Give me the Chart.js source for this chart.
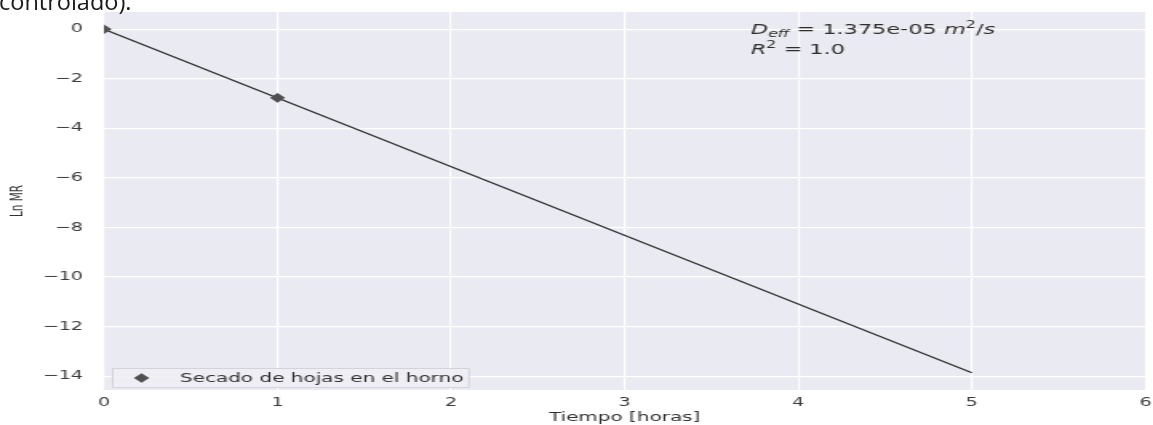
<!DOCTYPE html>
<html>
<head>
<meta charset="utf-8">
<script src="https://cdn.jsdelivr.net/npm/chart.js@4/dist/chart.umd.min.js"></script>
<style>
  html, body { margin: 0; padding: 0; background: #ffffff; overflow: hidden; }
  #wrap { position: relative; width: 1153px; height: 425px; overflow: hidden; }
  /* the figure is drawn at a narrower width and widened to fill the page */
  #lienzo { position: absolute; left: 0; top: 0; width: 721px; height: 425px;
            transform: scaleX(1.5992); transform-origin: 0 0; }
  #caption {
    position: absolute; left: -1px; top: -10px;
    font-family: "Open Sans", "Noto Sans", sans-serif; font-size: 23.5px;
    line-height: 23.5px; color: #1a1a1a; white-space: nowrap;
  }
</style>
</head>
<body>
<div id="wrap">
  <div id="lienzo"><canvas id="c" width="721" height="425"></canvas></div>
  <div id="caption">controlado).</div>
</div>
<script>
// Measured drying points: time (hours) and ln(MR)
const tiempoHoras = [0, 1];
const lnMR = [0, -2.77];

// Fitted straight line ln(MR) = -k t
const ajusteTiempo = [0, 5];
const ajusteLnMR = [0, -13.86];

// Axis limits and ticks
const xLimites = [0, 6];
const yLimites = [-14.556, 0.693];
const xTicks = [0, 1, 2, 3, 4, 5, 6];
const yTicks = [0, -2, -4, -6, -8, -10, -12, -14];

const serieEtiqueta = 'Secado de hojas en el horno';
const dEffTexto = '1.375e-05';
const r2Texto = '1.0';

const FONDO = '#EAEAF2';
const TEXTO = '#3a3a3a';
const MARCADOR = '#505050';

const menos = v => String(v).replace('-', '\u2212');

// plot face colour
const fondoPlugin = {
  id: 'fondo',
  beforeDraw(chart) {
    const { ctx, chartArea: a } = chart;
    ctx.save();
    ctx.fillStyle = FONDO;
    ctx.fillRect(a.left, a.top, a.right - a.left, a.bottom - a.top);
    ctx.restore();
  }
};

// draws a sequence of text runs with italic / sub / superscript pieces
function escribir(ctx, piezas, x, y) {
  for (const p of piezas) {
    ctx.font = (p.it ? 'italic ' : '') + p.size + 'px "DejaVu Sans"';
    ctx.fillText(p.t, x, y + (p.dy || 0));
    x += ctx.measureText(p.t).width;
  }
}

// D_eff and R² annotation in the upper right of the axes
const anotacionPlugin = {
  id: 'anotacion',
  afterDatasetsDraw(chart) {
    const { ctx, chartArea: a } = chart;
    const x = a.left + 0.621 * (a.right - a.left);
    ctx.save();
    ctx.fillStyle = '#2e2e2e';
    ctx.textBaseline = 'alphabetic';
    ctx.textAlign = 'left';
    escribir(ctx, [
      { t: 'D', it: true, size: 14 },
      { t: 'eff', it: true, size: 10, dy: 3 },
      { t: ' = ' + dEffTexto + ' ', size: 14 },
      { t: 'm', it: true, size: 14 },
      { t: '2', size: 10, dy: -6 },
      { t: '/', size: 14 },
      { t: 's', it: true, size: 14 }
    ], x, a.top + 22);
    escribir(ctx, [
      { t: 'R', it: true, size: 14 },
      { t: '2', size: 10, dy: -6 },
      { t: ' = ' + r2Texto, size: 14 }
    ], x, a.top + 42);
    ctx.restore();
  }
};

// framed legend in the lower left corner of the axes
const leyendaPlugin = {
  id: 'leyenda',
  afterDraw(chart) {
    const { ctx, chartArea: a } = chart;
    const ds = chart.data.datasets[0];
    ctx.save();
    ctx.font = '12.5px "DejaVu Sans"';
    const ancho = ctx.measureText(ds.label).width;
    const x0 = a.left + 5, y0 = a.bottom - 22, alto = 19;
    const x1 = a.left + 47.5 + ancho + 3;
    ctx.fillStyle = 'rgba(238,238,244,0.9)';
    ctx.strokeStyle = '#d3d3db';
    ctx.lineWidth = 1;
    ctx.beginPath();
    ctx.rect(x0 + 0.5, y0 + 0.5, x1 - x0, alto);
    ctx.fill();
    ctx.stroke();
    const yc = y0 + alto / 2 + 0.5;
    ctx.fillStyle = ds.backgroundColor;
    ctx.strokeStyle = ds.borderColor;
    Chart.helpers.drawPoint(ctx, { pointStyle: 'rectRot', radius: ds.pointRadius, borderWidth: 0, rotation: 0 }, a.left + 23.5, yc);
    ctx.fillStyle = '#333333';
    ctx.textBaseline = 'middle';
    ctx.textAlign = 'left';
    ctx.fillText(ds.label, a.left + 47.5, yc + 0.5);
    ctx.restore();
  }
};

new Chart(document.getElementById('c'), {
  type: 'scatter',
  data: {
    datasets: [
      {
        label: serieEtiqueta,
        data: tiempoHoras.map((t, i) => ({ x: t, y: lnMR[i] })),
        pointStyle: 'rectRot',
        pointRadius: 4.8,
        pointBorderWidth: 0,
        backgroundColor: MARCADOR,
        borderColor: MARCADOR,
        showLine: false,
        clip: 0,
        order: 0
      },
      {
        label: 'Ajuste lineal',
        data: ajusteTiempo.map((t, i) => ({ x: t, y: ajusteLnMR[i] })),
        showLine: true,
        pointRadius: 0,
        borderColor: '#2e2e2e',
        borderWidth: 1.3,
        clip: 0,
        order: 1
      }
    ]
  },
  options: {
    responsive: false,
    animation: false,
    devicePixelRatio: 1,
    layout: { padding: { top: 12, right: 4, bottom: 0, left: 0 } },
    plugins: { legend: { display: false }, tooltip: { enabled: false } },
    scales: {
      x: {
        type: 'linear',
        min: xLimites[0],
        max: xLimites[1],
        afterBuildTicks: s => { s.ticks = xTicks.map(v => ({ value: v })); },
        afterFit: s => { s.height = 35; s.paddingLeft = 0; s.paddingRight = 0; },
        border: { display: false },
        grid: { color: '#ffffff', lineWidth: 1.2, drawTicks: false },
        ticks: {
          padding: 6, autoSkip: false, maxRotation: 0, color: TEXTO,
          font: { family: 'DejaVu Sans', size: 12 },
          callback: v => menos(v)
        },
        title: {
          display: true, text: 'Tiempo [horas]', color: '#333333',
          font: { family: 'DejaVu Sans', size: 12.5 },
          padding: { top: 0, bottom: 0 }
        }
      },
      y: {
        type: 'linear',
        min: yLimites[0],
        max: yLimites[1],
        afterBuildTicks: s => { s.ticks = yTicks.map(v => ({ value: v })); },
        afterFit: s => { s.width = 65; s.paddingTop = 0; s.paddingBottom = 0; },
        border: { display: false },
        grid: { color: '#ffffff', lineWidth: 1.2, drawTicks: false },
        ticks: {
          padding: 13, autoSkip: false, color: TEXTO,
          font: { family: 'DejaVu Sans', size: 12 },
          callback: v => menos(v)
        },
        title: {
          display: true, text: 'Ln MR', color: '#333333',
          font: { family: 'DejaVu Sans', size: 10.5 },
          padding: { top: 5, bottom: 0 }
        }
      }
    }
  },
  plugins: [fondoPlugin, anotacionPlugin, leyendaPlugin]
});
</script>
</body>
</html>
